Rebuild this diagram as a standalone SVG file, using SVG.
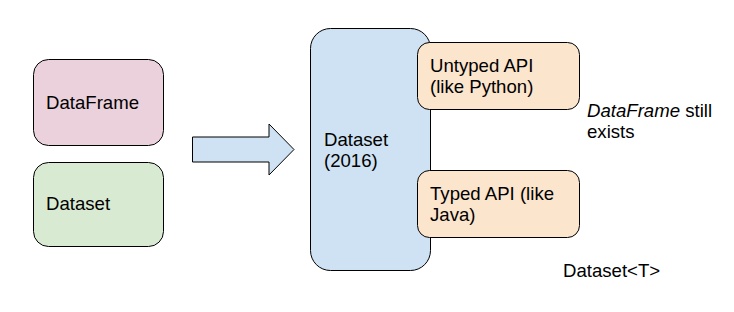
<svg xmlns="http://www.w3.org/2000/svg" width="734" height="312" viewBox="0 0 734 312">
<style>
.b{stroke:#000;stroke-width:1}
.t{font-family:"Liberation Sans",Arial,sans-serif;font-size:18.6px;fill:#000}
</style>
<rect width="734" height="312" fill="#fff"/>
<g id="dataframe"><rect class="b" x="33.5" y="59.5" width="130" height="86" rx="15" fill="#ead1dc"/><text class="t" x="46" y="109">DataFrame</text></g>
<g id="dataset-old"><rect class="b" x="33.5" y="162.5" width="130" height="84" rx="15" fill="#d9ead3"/><text class="t" x="46" y="210">Dataset</text></g>
<g id="connectors"><path class="b" d="M192.5 137 H269 V124 L294 149.5 L269 175 V162 H192.5 Z" fill="#cfe2f3"/></g>
<g id="dataset2016"><rect class="b" x="310.5" y="28.5" width="120" height="242" rx="20" fill="#cfe2f3"/><text class="t" x="324" y="146">Dataset</text><text class="t" x="324" y="167">(2016)</text></g>
<g id="untyped"><rect class="b" x="417.5" y="42.5" width="162" height="67" rx="12" fill="#fce5cd"/><text class="t" x="430" y="72">Untyped API</text><text class="t" x="430" y="93">(like Python)</text></g>
<g id="typed"><rect class="b" x="417.5" y="170.5" width="162" height="67" rx="12" fill="#fce5cd"/><text class="t" x="430" y="200">Typed API (like</text><text class="t" x="430" y="221">Java)</text></g>
<g id="note"><text class="t" x="587" y="117"><tspan font-style="italic">DataFrame</tspan> still</text><text class="t" x="587" y="138">exists</text></g>
<g id="label"><text class="t" x="563" y="277">Dataset&lt;T&gt;</text></g>
</svg>
